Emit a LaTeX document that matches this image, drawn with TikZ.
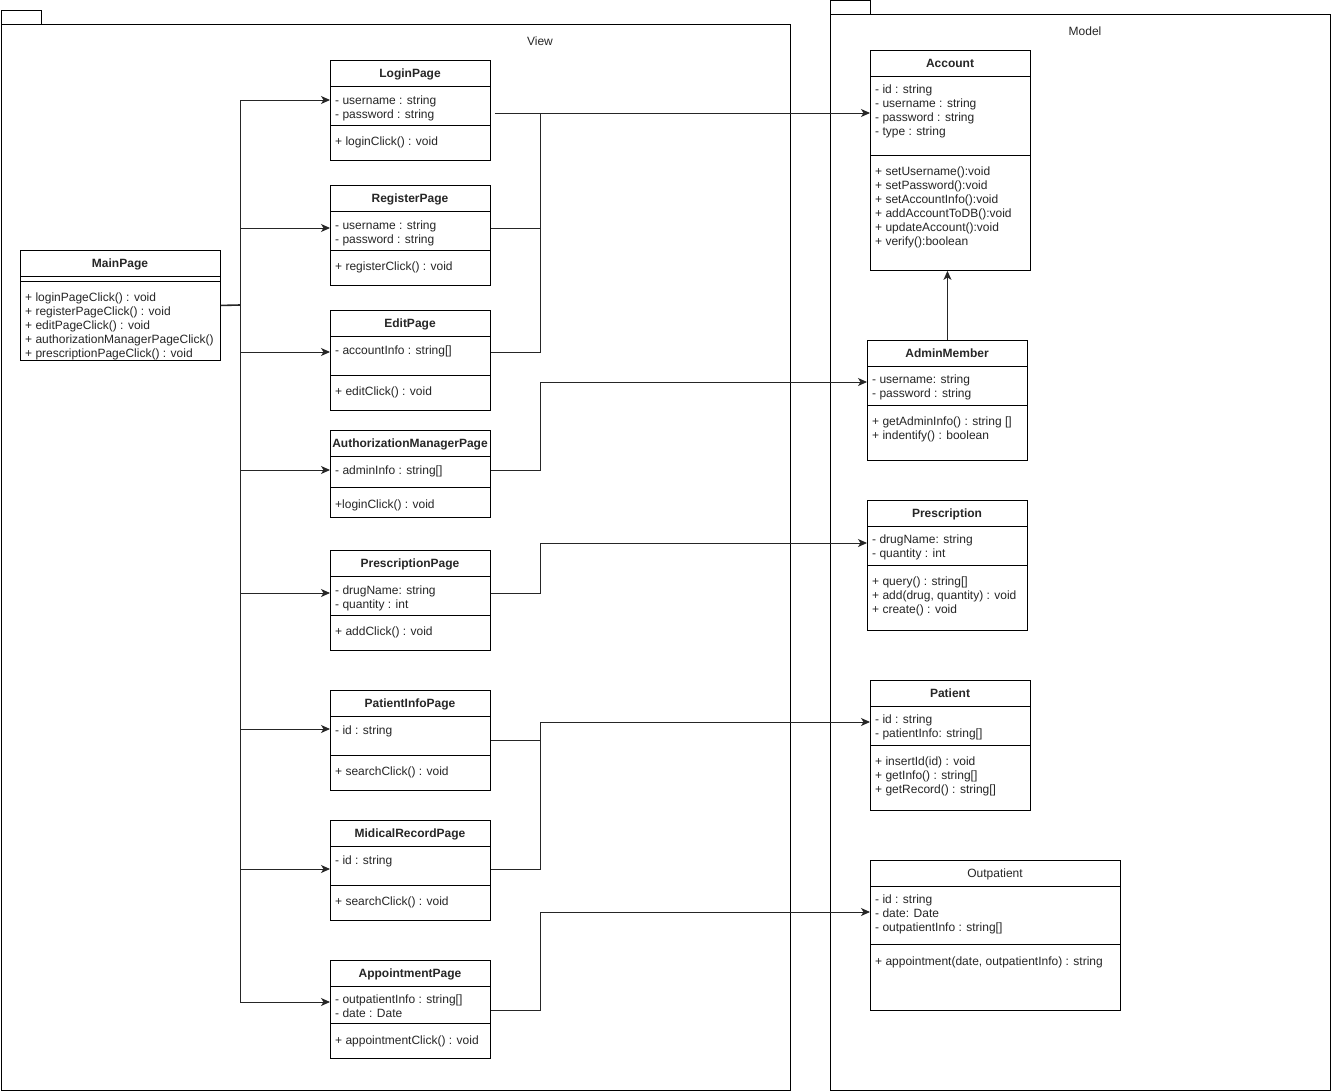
\documentclass[tikz,border=0pt]{standalone}
\usepackage{fontspec}
\setmainfont{Liberation Sans}
\usetikzlibrary{arrows.meta}

% class box: name, x, y (top), width, height, header height, header+attribute height, title
\newcommand\klass[8]{%
  \node[box, minimum width=#4pt, minimum height=#5pt] (#1) at (#2,#3) {};
  \draw[sep] (#2,{#3+#6}) -- ++(#4,0);
  \draw[sep] (#2,{#3+#7}) -- ++(#4,0);
  \node[ctitle] (#1-t) at ({#2+#4/2},{#3+#6/2}) {#8};
}
% member lines: name prefix, x, y of first line, list of lines
\newcommand\members[4]{%
  \foreach \t [count=\i] in {#4}{\node[member] (#1-\i) at (#2,{#3+14*(\i-1)}) {\t};}
}

\begin{document}
\begin{tikzpicture}[x=1pt,y=-1pt,
  every node/.style={font=\fontsize{12}{14}\selectfont, text=black!85},
  box/.style={draw=black, line width=0.9pt, fill=white, rectangle, inner sep=0pt, anchor=north west},
  member/.style={anchor=west, inner sep=0pt, text height=8.5pt, text depth=2.5pt, yshift=-1.5pt},
  ctitle/.style={inner sep=0pt, text height=8.5pt, text depth=2.5pt, yshift=-1.5pt},
  sep/.style={line width=0.9pt},
  link/.style={draw=black!85, line width=0.9pt},
  arr/.style={link, -{Stealth[length=9pt,width=8pt,inset=2.5pt]}}]

\useasboundingbox (0,0) rectangle (1331,1092);

% packages
\node[box, minimum width=40pt, minimum height=14pt] (viewtab) at (0.5,10) {};
\node[box, minimum width=789.5pt, minimum height=1066pt] (view) at (0.5,24) {};
\node[yshift=-1.5pt] (viewlbl) at (540,40) {View};
\node[box, minimum width=40pt, minimum height=14pt] (modeltab) at (830,0.5) {};
\node[box, minimum width=500pt, minimum height=1076pt] (model) at (830,14) {};
\node[yshift=-1.5pt] (modellbl) at (1085,30) {Model};

% view classes
\klass{main}{20}{250}{200}{110}{26}{31}{\bfseries MainPage}
\members{main-m}{25}{297}{+ loginPageClick() : void, + registerPageClick() : void, + editPageClick() : void, + authorizationManagerPageClick(), + prescriptionPageClick() : void}

\klass{login}{330}{60}{160}{100}{26}{65}{\bfseries LoginPage}
\members{login-a}{335}{100}{- username : string, - password : string}
\members{login-m}{335}{141}{+ loginClick() : void}

\klass{register}{330}{185}{160}{100}{26}{65}{\bfseries RegisterPage}
\members{register-a}{335}{225}{- username : string, - password : string}
\members{register-m}{335}{266}{+ registerClick() : void}

\klass{edit}{330}{310}{160}{100}{26}{65}{\bfseries EditPage}
\members{edit-a}{335}{350}{- accountInfo : string[]}
\members{edit-m}{335}{391}{+ editClick() : void}

\klass{auth}{330}{430}{160}{87}{26}{57}{\bfseries AuthorizationManagerPage}
\members{auth-a}{335}{470}{- adminInfo : string[]}
\members{auth-m}{335}{504}{+loginClick() : void}

\klass{presc}{330}{550}{160}{100}{26}{65}{\bfseries PrescriptionPage}
\members{presc-a}{335}{590}{- drugName: string, - quantity : int}
\members{presc-m}{335}{631}{+ addClick() : void}

\klass{patinfo}{330}{690}{160}{100}{26}{65}{\bfseries PatientInfoPage}
\members{patinfo-a}{335}{730}{- id : string}
\members{patinfo-m}{335}{771}{+ searchClick() : void}

\klass{midical}{330}{820}{160}{100}{26}{65}{\bfseries MidicalRecordPage}
\members{midical-a}{335}{860}{- id : string}
\members{midical-m}{335}{901}{+ searchClick() : void}

\klass{appoint}{330}{960}{160}{98}{26}{63}{\bfseries AppointmentPage}
\members{appoint-a}{335}{999}{- outpatientInfo : string[], - date : Date}
\members{appoint-m}{335}{1040}{+ appointmentClick() : void}

% model classes
\klass{account}{870}{50}{160}{220}{26}{105}{\bfseries Account}
\members{account-a}{875}{89}{- id : string, - username : string, - password : string, - type : string}
\members{account-m}{875}{171}{+ setUsername():void, + setPassword():void, + setAccountInfo():void, + addAccountToDB():void, + updateAccount():void, + verify():boolean}

\klass{admin}{867}{340}{160}{120}{26}{65}{\bfseries AdminMember}
\members{admin-a}{872}{379}{- username: string, - password : string}
\members{admin-m}{872}{421}{+ getAdminInfo() : string [], + indentify() : boolean}

\klass{prescription}{867}{500}{160}{130}{26}{65}{\bfseries Prescription}
\members{prescription-a}{872}{539}{- drugName: string, - quantity : int}
\members{prescription-m}{872}{581}{+ query() : string[], {+ add(drug, quantity) : void}, + create() : void}

\klass{patient}{870}{680}{160}{130}{26}{65}{\bfseries Patient}
\members{patient-a}{875}{719}{- id : string, - patientInfo: string[]}
\members{patient-m}{875}{761}{+ insertId(id) : void, + getInfo() : string[], + getRecord() : string[]}

\klass{outpatient}{870}{860}{250}{150}{26}{84}{Outpatient}
\members{outpatient-a}{875}{899}{- id : string, - date: Date, - outpatientInfo : string[]}
\members{outpatient-m}{875}{961}{{+ appointment(date, outpatientInfo) : string}}

% navigation from the main page
\coordinate (hub) at (240,305);
\draw[link, line width=1.6pt] (main.east) -- (hub);
\draw[arr] (hub) |- ([yshift=-40pt]login.north west);
\draw[arr] (hub) |- ([yshift=-43pt]register.north west);
\draw[arr] (hub) |- ([yshift=-42pt]edit.north west);
\draw[arr] (hub) |- ([yshift=-40pt]auth.north west);
\draw[arr] (hub) |- ([yshift=-43pt]presc.north west);
\draw[arr] (hub) |- ([yshift=-39pt]patinfo.north west);
\draw[arr] (hub) |- ([yshift=-49pt]midical.north west);
\draw[arr] (hub) |- ([yshift=-42pt]appoint.north west);

% pages to model classes
\coordinate (jA) at (540,113);
\draw[arr] ([xshift=4pt,yshift=-53pt]login.north east) -- ([yshift=-63pt]account.north west);
\draw[link] ([yshift=-43pt]register.north east) -| (jA);
\draw[link] ([yshift=-42pt]edit.north east) -| (jA);

\coordinate (jB) at (540,382);
\draw[arr] ([yshift=-40pt]auth.north east) -| (jB) -- ([yshift=-42pt]admin.north west);

\coordinate (jC) at (540,543);
\draw[arr] ([yshift=-43pt]presc.north east) -| (jC) -- ([yshift=-43pt]prescription.north west);

\coordinate (jD) at (540,722);
\draw[arr] ([yshift=-50pt]patinfo.north east) -| (jD) -- ([yshift=-42pt]patient.north west);
\draw[link] ([yshift=-49pt]midical.north east) -| (jD);

\coordinate (jE) at (540,912);
\draw[arr] ([yshift=-50pt]appoint.north east) -| (jE) -- ([yshift=-52pt]outpatient.north west);

% link inside the model
\draw[arr] (admin.north) -- (admin.north |- account.south);

\end{tikzpicture}
\end{document}
